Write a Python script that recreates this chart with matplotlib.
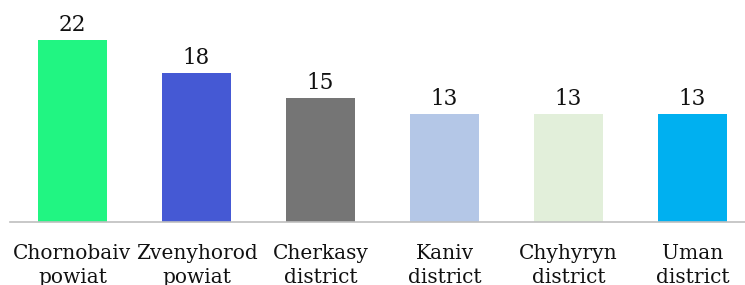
import matplotlib
matplotlib.use("Agg")
import matplotlib.pyplot as plt

# data
districts = ["Chornobaiv\npowiat", "Zvenyhorod\npowiat", "Cherkasy\ndistrict",
             "Kaniv\ndistrict", "Chyhyryn\ndistrict", "Uman\ndistrict"]
counts = [22, 18, 15, 13, 13, 13]
bar_colors = ["#21F582", "#4559D4", "#757575", "#B4C7E7", "#E2EFDA", "#00B0F0"]

plt.rcParams["font.family"] = ["DejaVu Serif"]

fig = plt.figure(figsize=(7.45, 2.85), dpi=100)
# axes slightly wider than the figure so the category slots line up
ax = fig.add_axes([10.5 / 745, 1 - 222 / 285, 744 / 745, 222 / 285])

x = list(range(len(districts)))
bars = ax.bar(x, counts, width=0.556, color=bar_colors)

for rect, val in zip(bars, counts):
    ax.annotate(str(val), (rect.get_x() + rect.get_width() / 2, val),
                xytext=(0, 3), textcoords="offset points",
                ha="center", va="bottom", fontsize=15.5, color="#111111")

ax.set_xlim(-0.5, len(districts) - 0.5)
ax.set_ylim(0, 222 / 8.27)
ax.set_xticks(x)
ax.set_xticklabels(districts, fontsize=14.5, color="#111111", linespacing=1.35)
ax.tick_params(axis="x", length=0, pad=16)
ax.set_yticks([])

for side in ["top", "left", "right"]:
    ax.spines[side].set_visible(False)
ax.spines["bottom"].set_color("#BFBFBF")
ax.spines["bottom"].set_linewidth(1.2)

fig.savefig("out.png", dpi=100)
